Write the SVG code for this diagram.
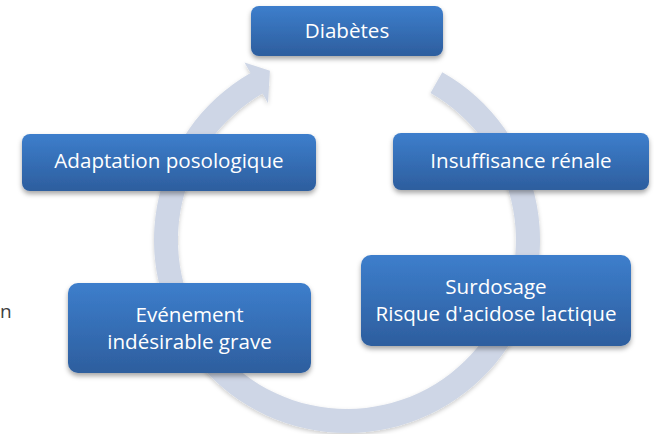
<svg xmlns="http://www.w3.org/2000/svg" width="654" height="434" viewBox="0 0 654 434">
  <defs>
    <linearGradient id="boxGrad" x1="0" y1="0" x2="0" y2="1">
      <stop offset="0" stop-color="#3D7ECC"/>
      <stop offset="1" stop-color="#2D5E9E"/>
    </linearGradient>
    <filter id="shadow" x="-10%" y="-20%" width="120%" height="150%">
      <feDropShadow dx="0" dy="3" stdDeviation="2.5" flood-color="#000" flood-opacity="0.35"/>
    </filter>
    <filter id="ringShadow" x="-10%" y="-10%" width="120%" height="120%">
      <feDropShadow dx="0" dy="2" stdDeviation="2" flood-color="#000" flood-opacity="0.2"/>
    </filter>
  </defs>
  <style>
    .box { fill: url(#boxGrad); filter: url(#shadow); }
    .lbl { font-family: "Open Sans", "Noto Sans", sans-serif; font-size: 20.6px; fill: #FFFFFF; text-anchor: middle; }
    .ring { fill: #CED6E6; filter: url(#ringShadow); }
  </style>
  <rect width="654" height="434" fill="#FFFFFF"/>
  <text x="0" y="318" font-family="Open Sans, sans-serif" font-size="19" fill="#404040">n</text>
  <g id="connectors">
    <path class="ring" d="M442.3,72.2 A193,193 0 1 1 250.5,72.9 L244.5,62.5 L269.9,70.7 L268,103.2 L262.5,93.6 A169,169 0 1 0 430.5,93.1 Z"/>
  </g>
  <g id="diabetes">
    <rect class="box" x="251" y="6" width="192" height="50" rx="8"/>
    <text class="lbl" x="347" y="38">Diabètes</text>
  </g>
  <g id="insuffisance">
    <rect class="box" x="393" y="133" width="256" height="57" rx="8"/>
    <text class="lbl" x="521" y="168">Insuffisance rénale</text>
  </g>
  <g id="surdosage">
    <rect class="box" x="361" y="255" width="270" height="91" rx="10"/>
    <text class="lbl" x="496" y="294">Surdosage</text>
    <text class="lbl" x="496" y="321">Risque d'acidose lactique</text>
  </g>
  <g id="evenement">
    <rect class="box" x="68" y="283" width="243" height="90" rx="10"/>
    <text class="lbl" x="189.5" y="322">Evénement</text>
    <text class="lbl" x="189.5" y="349">indésirable grave</text>
  </g>
  <g id="adaptation">
    <rect class="box" x="22" y="134" width="294" height="57" rx="8"/>
    <text class="lbl" x="169" y="168">Adaptation posologique</text>
  </g>
</svg>
